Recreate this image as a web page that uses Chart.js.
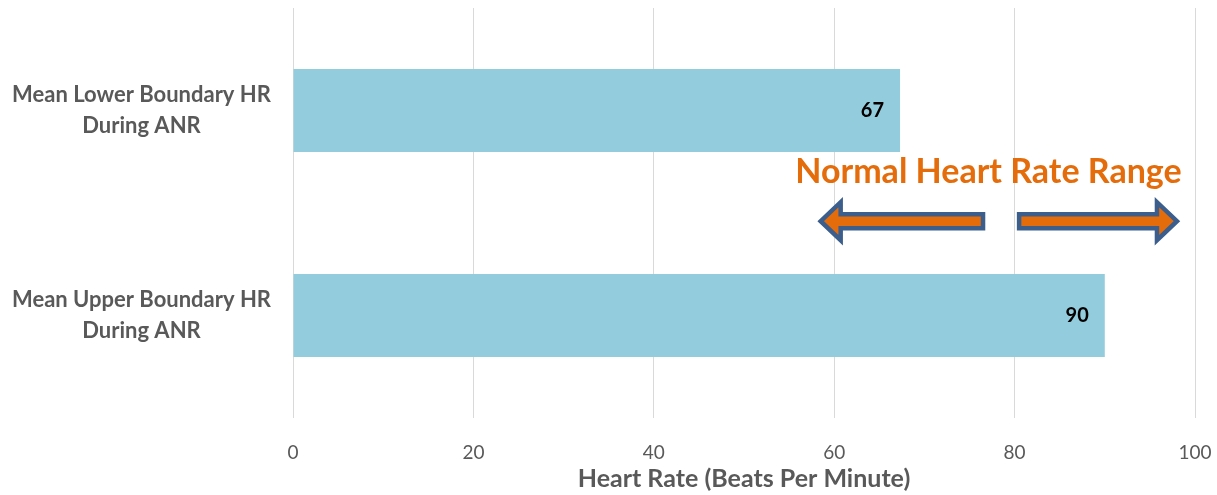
<!DOCTYPE html>
<html lang="en">
  <head>
    <meta charset="UTF-8" />
    <title>Heart Rate During ANR</title>
    <script src="https://cdn.jsdelivr.net/npm/chart.js"></script>
    <style>
      html, body { margin: 0; padding: 0; background: #ffffff; }
      #wrap { position: relative; width: 1217px; height: 495px; }
    </style>
  </head>
  <body>
    <div id="wrap"><canvas id="hrChart"></canvas></div>
    <script>
      // data
      const categories = [
        ["Mean Lower Boundary HR", "During ANR"],
        ["Mean Upper Boundary HR", "During ANR"],
      ];
      const hrValues = [67.3, 90];
      const valueLabels = ["67", "90"];
      const xTicks = [0, 20, 40, 60, 80, 100];

      // "Normal Heart Rate Range" note and its two arrows (x in bpm, y in category units)
      const rangeText = "Normal Heart Rate Range";
      const rangeTextAt = { x: 77.1, y: 0.3 };
      const arrowFrom = [76.5, 80.5];
      const arrowTo = [58.5, 98];
      const arrowY = 0.54;

      const greyText = "#595959";

      // value labels drawn inside the bar end
      const barLabels = {
        id: "barLabels",
        afterDatasetsDraw(chart) {
          const { ctx } = chart;
          const meta = chart.getDatasetMeta(0);
          ctx.save();
          ctx.font = "bold 20px Lato";
          ctx.fillStyle = "#000000";
          ctx.textAlign = "right";
          ctx.textBaseline = "middle";
          meta.data.forEach((bar, i) => {
            ctx.fillText(valueLabels[i], bar.x - 16, bar.y);
          });
          ctx.restore();
        },
      };

      // orange note with block arrows
      const rangeNote = {
        id: "rangeNote",
        afterDraw(chart) {
          const { ctx } = chart;
          const xs = chart.scales.x;
          const ys = chart.scales.y;
          ctx.save();
          ctx.font = "bold 34px Lato";
          ctx.fillStyle = "#E46C0A";
          ctx.textAlign = "center";
          ctx.textBaseline = "middle";
          ctx.fillText(rangeText, xs.getPixelForValue(rangeTextAt.x), ys.getPixelForValue(rangeTextAt.y));

          const cy = ys.getPixelForValue(arrowY);
          const shaft = 7;
          const head = 19;
          const headLen = 20;
          for (let i = 0; i < arrowFrom.length; i++) {
            const x0 = xs.getPixelForValue(arrowFrom[i]);
            const x1 = xs.getPixelForValue(arrowTo[i]);
            const dir = Math.sign(x1 - x0);
            const xh = x1 - dir * headLen;
            ctx.beginPath();
            ctx.moveTo(x0, cy - shaft);
            ctx.lineTo(xh, cy - shaft);
            ctx.lineTo(xh, cy - head);
            ctx.lineTo(x1, cy);
            ctx.lineTo(xh, cy + head);
            ctx.lineTo(xh, cy + shaft);
            ctx.lineTo(x0, cy + shaft);
            ctx.closePath();
            ctx.fillStyle = "#E46C0A";
            ctx.fill();
            ctx.lineWidth = 4.5;
            ctx.lineJoin = "miter";
            ctx.strokeStyle = "#3B5E8C";
            ctx.stroke();
          }
          ctx.restore();
        },
      };

      const ctx = document.getElementById("hrChart").getContext("2d");
      new Chart(ctx, {
        type: "bar",
        data: {
          labels: categories,
          datasets: [
            {
              data: hrValues,
              backgroundColor: "#93CDDD",
              borderWidth: 0,
              categoryPercentage: 1,
              barPercentage: 0.405,
            },
          ],
        },
        options: {
          indexAxis: "y",
          responsive: true,
          maintainAspectRatio: false,
          animation: false,
          layout: { padding: { top: 8, right: 22, bottom: 0, left: 0 } },
          scales: {
            x: {
              min: 0,
              max: 100,
              afterBuildTicks: (axis) => {
                axis.ticks = xTicks.map((v) => ({ value: v }));
              },
              afterFit: (axis) => {
                axis.height = 77;
                axis.paddingLeft = 0;
                axis.paddingRight = 0;
              },
              grid: { color: "#D9D9D9", lineWidth: 1, drawTicks: false },
              border: { display: false },
              ticks: {
                padding: 23,
                color: greyText,
                font: { family: "Lato", size: 19 },
              },
              title: {
                display: true,
                text: "Heart Rate (Beats Per Minute)",
                color: greyText,
                font: { family: "Lato", size: 25, weight: "bold" },
                padding: { top: 4, bottom: 1 },
              },
            },
            y: {
              grid: { display: false, drawTicks: false },
              border: { display: false },
              afterFit: (axis) => {
                axis.width = 293;
                axis.paddingTop = 0;
                axis.paddingBottom = 0;
              },
              ticks: {
                crossAlign: "center",
                padding: 22,
                color: greyText,
                font: { family: "Lato", size: 22, weight: "bold", lineHeight: 1.38 },
              },
            },
          },
          plugins: {
            legend: { display: false },
            tooltip: { enabled: false },
          },
        },
        plugins: [barLabels, rangeNote],
      });
    </script>
  </body>
</html>
